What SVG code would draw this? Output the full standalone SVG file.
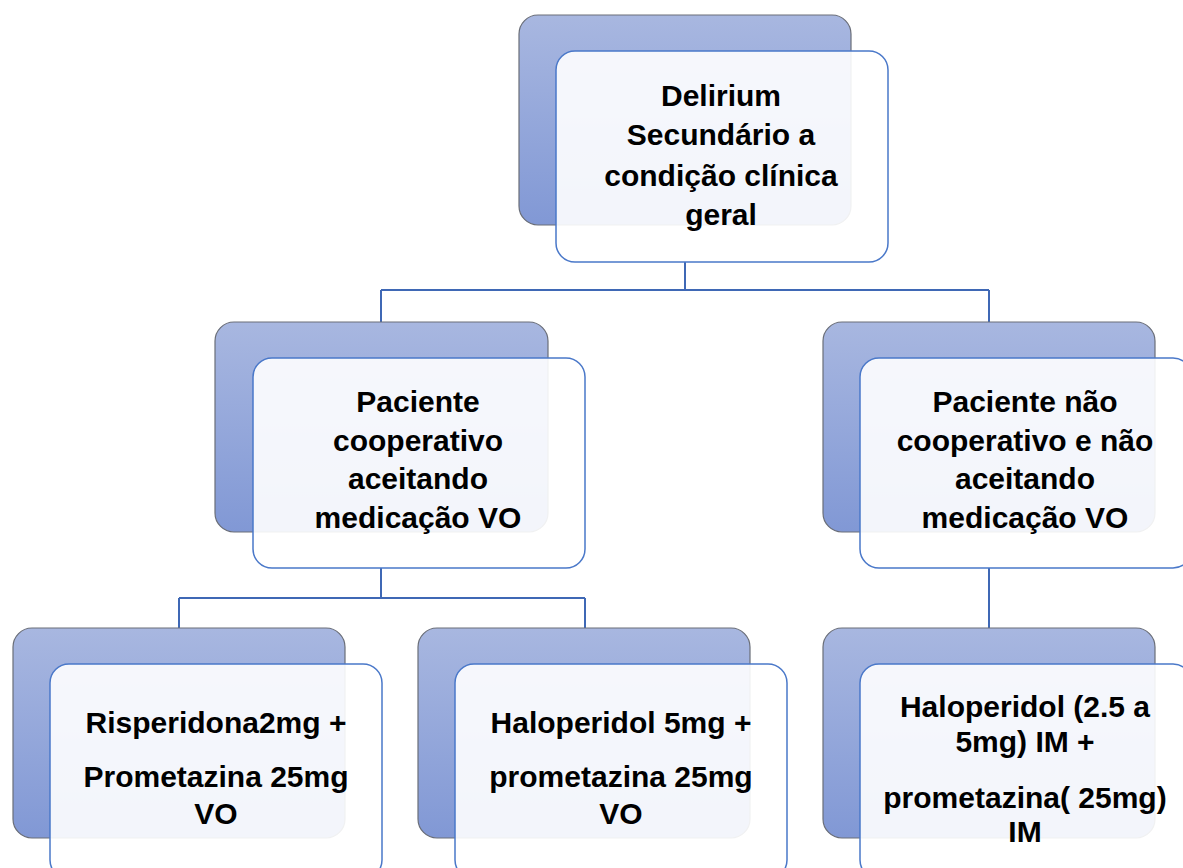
<svg xmlns="http://www.w3.org/2000/svg" width="1183" height="868" viewBox="0 0 1183 868">
<defs>
<linearGradient id="bg" x1="0" y1="0" x2="0" y2="1">
<stop offset="0" stop-color="#a8b7e0"/>
<stop offset="1" stop-color="#8198d5"/>
</linearGradient>
<style>
.back{fill:url(#bg);stroke:#6a6e78;stroke-width:1.2}
.front{fill:#ffffff;fill-opacity:0.9;stroke:#4a78c9;stroke-width:1.5}
.conn{fill:none;stroke:#3f68b5;stroke-width:2}
text{font-family:"Liberation Sans",Arial,sans-serif;font-weight:bold;font-size:30px;fill:#000;text-anchor:middle}
</style>
</defs>
<rect width="1183" height="868" fill="#ffffff"/>
<g id="connectors">
<path class="conn" d="M685,262 V290 M381,290 H989 M381,290 V322 M989,290 V322"/>
<path class="conn" d="M381,568 V598 M179,598 H585 M179,598 V628 M585,598 V628"/>
<path class="conn" d="M989,568 V628"/>
</g>
<g id="n-top">
<rect class="back" x="519" y="15" width="332" height="210" rx="19"/>
<rect class="front" x="556" y="51" width="332" height="211" rx="19"/>
<text x="721" y="106">Delirium</text>
<text x="721" y="145">Secundário a</text>
<text x="721" y="186">condição clínica</text>
<text x="721" y="225">geral</text>
</g>
<g id="n-coop">
<rect class="back" x="215" y="322" width="333" height="210" rx="19"/>
<rect class="front" x="253" y="358" width="332" height="210" rx="19"/>
<text x="418" y="412">Paciente</text>
<text x="418" y="451">cooperativo</text>
<text x="418" y="489">aceitando</text>
<text x="418" y="528">medicação VO</text>
</g>
<g id="n-naocoop">
<rect class="back" x="823" y="322" width="332" height="210" rx="19"/>
<rect class="front" x="860" y="358" width="332" height="210" rx="19"/>
<text x="1025" y="412">Paciente não</text>
<text x="1025" y="451">cooperativo e não</text>
<text x="1025" y="489">aceitando</text>
<text x="1025" y="528">medicação VO</text>
</g>
<g id="n-risp">
<rect class="back" x="13" y="628" width="332" height="210" rx="19"/>
<rect class="front" x="50" y="664" width="332" height="215" rx="19"/>
<text x="216" y="733">Risperidona2mg +</text>
<text x="216" y="787">Prometazina 25mg</text>
<text x="216" y="824">VO</text>
</g>
<g id="n-halo-vo">
<rect class="back" x="418" y="628" width="332" height="210" rx="19"/>
<rect class="front" x="455" y="664" width="332" height="215" rx="19"/>
<text x="621" y="733">Haloperidol 5mg +</text>
<text x="621" y="787">prometazina 25mg</text>
<text x="621" y="824">VO</text>
</g>
<g id="n-halo-im">
<rect class="back" x="823" y="628" width="332" height="210" rx="19"/>
<rect class="front" x="860" y="664" width="332" height="215" rx="19"/>
<text x="1025" y="717">Haloperidol (2.5 a</text>
<text x="1025" y="752">5mg) IM +</text>
<text x="1025" y="808">prometazina( 25mg)</text>
<text x="1025" y="842">IM</text>
</g>
</svg>
